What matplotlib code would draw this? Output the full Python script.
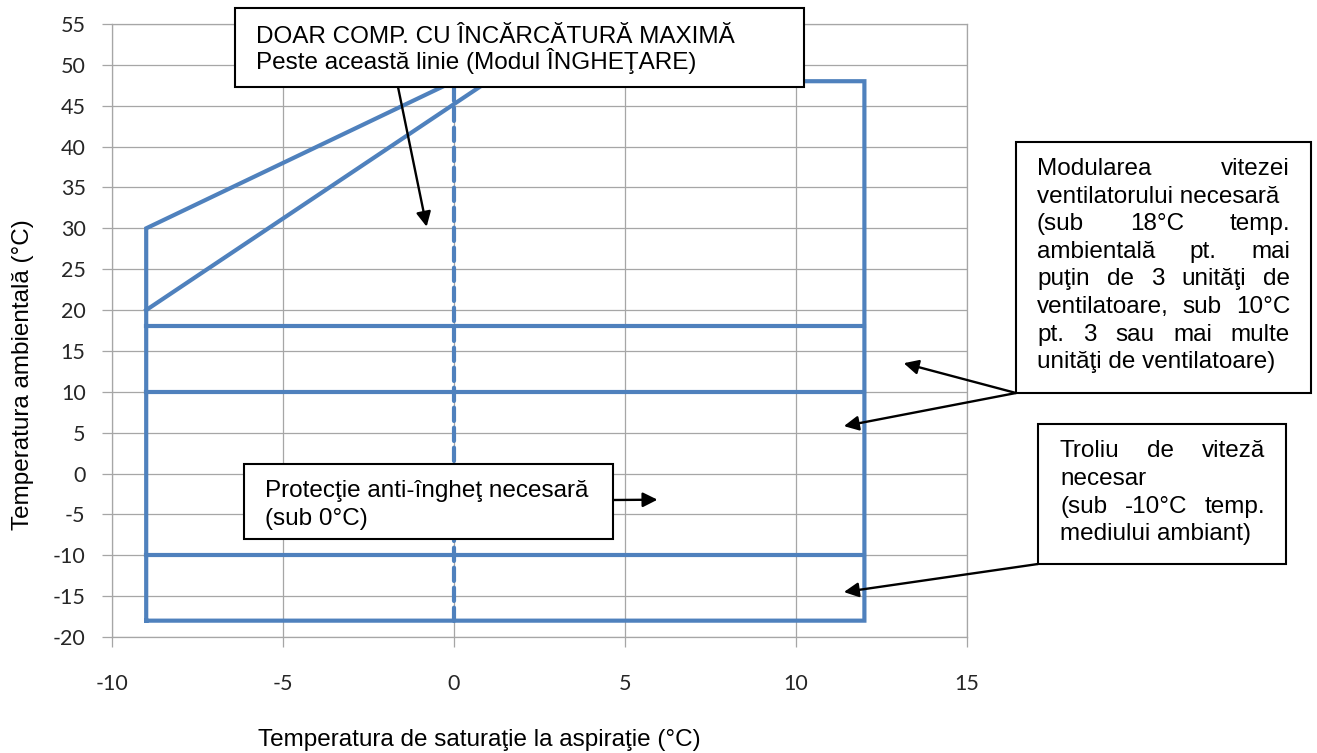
import matplotlib.pyplot as plt
from matplotlib.patches import Rectangle

plt.rcParams['axes.unicode_minus'] = False

# contur diagrama de functionare
outline_x = [-9, -9, 0, 12, 12, -9]
outline_y = [-18, 30, 48, 48, -18, -18]
slant_x = [-9, 1]
slant_y = [20, 48]
level_y = [18, 10, -10]
level_x = [-9, 12]
split_x = [0, 0]
split_y = [-18, 48]

x_ticks = [-10, -5, 0, 5, 10, 15]
y_ticks = list(range(-20, 60, 5))

W, H = 1317, 753
BLUE = '#4F81BD'
GRID = '#A6A6A6'
TXT = 'Liberation Sans'
FS = 17.5

fig = plt.figure(figsize=(W / 100, H / 100), dpi=100)
ax = fig.add_axes([112 / W, 1 - 637 / H, (967 - 112) / W, (637 - 24) / H])

ax.plot(outline_x, outline_y, color=BLUE, lw=3, solid_joinstyle='miter')
ax.plot(slant_x, slant_y, color=BLUE, lw=3)
for y in level_y:
    ax.plot(level_x, [y, y], color=BLUE, lw=3)
ax.plot(split_x, split_y, color=BLUE, lw=3, dashes=(3.2, 1.6), dash_capstyle='round')

ax.set_xlim(-10, 15)
ax.set_ylim(-20, 55)
ax.set_xticks(x_ticks)
ax.set_yticks(y_ticks)
ax.grid(True, color=GRID, lw=0.9)
ax.set_axisbelow(True)
for s in ax.spines.values():
    s.set_color(GRID)
    s.set_linewidth(0.9)
ax.tick_params(axis='x', length=7, width=0.9, color=GRID, pad=20)
ax.tick_params(axis='y', length=7, width=0.9, color=GRID, pad=12)
for lab in ax.get_xticklabels() + ax.get_yticklabels():
    lab.set_family('Lato')
    lab.set_fontsize(15.5)
    lab.set_color('#262626')

fig.text(23 / W, 1 - 375 / H, 'Temperatura ambientală (°C)', rotation=90,
         ha='center', va='center', fontsize=FS, family=TXT)
fig.text(479 / W, 1 - 740 / H, 'Temperatura de saturaţie la aspiraţie (°C)',
         ha='center', va='center', fontsize=FS, family=TXT)


def fx(px):
    return px / W


def fy(py):
    return 1 - py / H


# casete (x0, sus, x1, jos) in pixeli
boxes = [(235, 8, 804, 87), (244, 464, 613, 539), (1016, 142, 1311, 393), (1038, 424, 1286, 564)]
for x0, t, x1, b in boxes:
    fig.add_artist(Rectangle((fx(x0), fy(b)), fx(x1 - x0), (b - t) / H, transform=fig.transFigure,
                             facecolor='white', edgecolor='black', lw=1.5, zorder=5))

renderer = fig.canvas.get_renderer()


def put_line(text, x0, x1, yb, justify):
    if not justify:
        fig.text(fx(x0), fy(yb), text, ha='left', va='baseline', fontsize=FS, family=TXT, zorder=6)
        return
    words = text.split()
    objs = [fig.text(0, 0, w, ha='left', va='baseline', fontsize=FS, family=TXT, zorder=6) for w in words]
    widths = [o.get_window_extent(renderer).width for o in objs]
    gap = (x1 - x0 - sum(widths)) / (len(words) - 1)
    x = x0
    for o, w in zip(objs, widths):
        o.set_position((fx(x), fy(yb)))
        x += w + gap


put_line('DOAR COMP. CU ÎNCĂRCĂTURĂ MAXIMĂ', 256, 0, 43, False)
put_line('Peste această linie (Modul ÎNGHEŢARE)', 256, 0, 69, False)

put_line('Protecţie anti-îngheţ necesară', 265, 0, 497, False)
put_line('(sub 0°C)', 265, 0, 525, False)

mod_lines = [('Modularea vitezei', True), ('ventilatorului necesară', False),
             ('(sub 18°C temp.', True), ('ambientală pt. mai', True),
             ('puţin de 3 unităţi de', True), ('ventilatoare, sub 10°C', True),
             ('pt. 3 sau mai multe', True), ('unităţi de ventilatoare)', False)]
for i, (s, j) in enumerate(mod_lines):
    put_line(s, 1037, 1290, 175 + i * 27.6, j)

tro_lines = [('Troliu de viteză', True), ('necesar', False),
             ('(sub -10°C temp.', True), ('mediului ambiant)', False)]
for i, (s, j) in enumerate(tro_lines):
    put_line(s, 1060, 1265, 457 + i * 27.8, j)

arrow = dict(arrowstyle='-|>', lw=1.7, color='black', mutation_scale=22, shrinkA=0, shrinkB=0)
arrows = [((-0.8, 30.2), (398, 87)), ((5.95, -3.2), (613, 500)),
          ((13.15, 13.5), (1016, 393)), ((11.4, 5.8), (1016, 393)),
          ((11.4, -14.5), (1038, 564))]
for tip, start in arrows:
    ax.annotate('', xy=tip, xycoords='data', xytext=(start[0], H - start[1]),
                textcoords='figure pixels', arrowprops=arrow, annotation_clip=False, zorder=4)

fig.savefig('out.png', dpi=100)
